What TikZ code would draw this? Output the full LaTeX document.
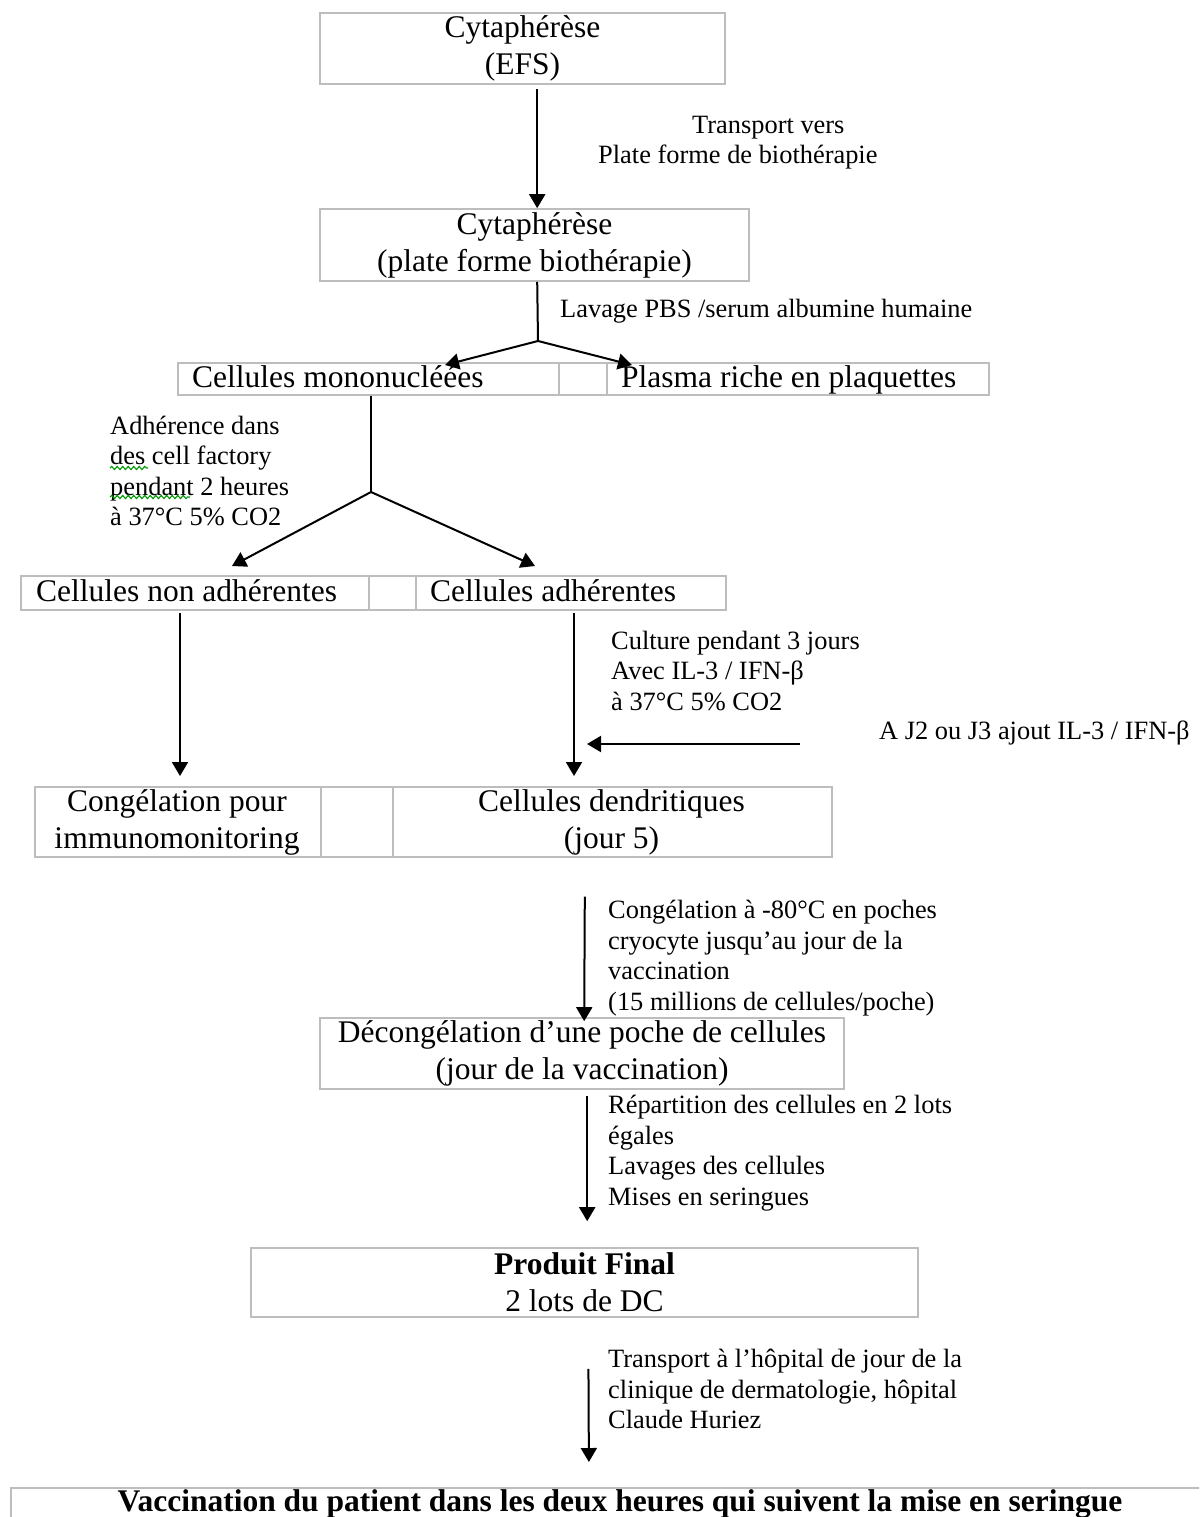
\documentclass[tikz,border=0pt]{standalone}
\usepackage{fontspec}
\setmainfont{Liberation Serif}
\usetikzlibrary{arrows.meta,decorations.pathmorphing,calc}
\newcommand\boxfnt{\fontsize{31.5}{37}\selectfont}
\newcommand\lblfnt{\fontsize{26.4}{30.5}\selectfont}
\definecolor{boxgray}{HTML}{BDBDBD}
\begin{document}
\begin{tikzpicture}[x=1pt,y=-1pt,
  box/.style={draw=boxgray, line width=1.6pt, fill=white, inner sep=0pt, align=center, font=\boxfnt},
  cellbox/.style={draw=boxgray, line width=1.6pt, fill=white, inner sep=0pt, anchor=north west},
  celltxt/.style={inner sep=0pt, font=\boxfnt, anchor=base west},
  lbl/.style={inner sep=0pt, font=\lblfnt, align=left, anchor=west},
  arr/.style={line width=2pt, -{Triangle[length=14pt,width=16pt]}},
  plain/.style={line width=2pt},
  squig/.style={draw=green!60!black, line width=1.1pt, decorate, decoration={snake, amplitude=1.6pt, segment length=5.5pt}}]
\path[use as bounding box] (0,0) rectangle (1199,1517);
\clip (0,0) rectangle (1199,1517);

% boxes
\node[box, minimum width=405, minimum height=71] (b1) at (522.5,48.5) {Cytaphérèse\\(EFS)};
\node[box, minimum width=429, minimum height=72] (b2) at (534.5,245) {Cytaphérèse\\(plate forme biothérapie)};

\node[cellbox, minimum width=381, minimum height=32] (c31) at (177,362) {};
\node[cellbox, minimum width=48, minimum height=32] (c32) at (558,362) {};
\node[cellbox, minimum width=382, minimum height=32] (c33) at (606,362) {};
\node[celltxt] (t31) at (192,387) {Cellules mononucléées};
\node[celltxt] (t33) at (621,387) {Plasma riche en plaquettes};

\node[cellbox, minimum width=348, minimum height=34] (c41) at (20,575) {};
\node[cellbox, minimum width=47, minimum height=34] (c42) at (368,575) {};
\node[cellbox, minimum width=310, minimum height=34] (c43) at (415,575) {};
\node[celltxt] (t41) at (36,601) {Cellules non adhérentes};
\node[celltxt] (t43) at (430,601) {Cellules adhérentes};

\node[cellbox, minimum width=286, minimum height=70] (c51) at (34,786) {};
\node[cellbox, minimum width=72, minimum height=70] (c52) at (320,786) {};
\node[cellbox, minimum width=439, minimum height=70] (c53) at (392,786) {};
\node[celltxt, anchor=center, align=center] (t51) at (177,822) {Congélation pour\\immunomonitoring};
\node[celltxt, anchor=center, align=center] (t53) at (611.5,822) {Cellules dendritiques\\(jour 5)};

\node[box, minimum width=524, minimum height=71] (b6) at (582,1053.5) {Décongélation d’une poche de cellules\\(jour de la vaccination)};
\node[box, minimum width=667, minimum height=69] (b7) at (584.5,1282.5) {\textbf{Produit Final}\\2 lots de DC};
\node[cellbox, minimum width=1220, minimum height=60] (b8) at (10,1487) {};
\node[celltxt, anchor=center, font=\boxfnt\bfseries] (t8) at (620,1504) {Vaccination du patient dans les deux heures qui suivent la mise en seringue};

% labels
\node[lbl] (l1) at (598,142.5) {\hspace*{94pt}Transport vers\\Plate forme de biothérapie};
\node[lbl] (l2) at (560,311) {Lavage PBS /serum albumine humaine};
\node[lbl] (l3) at (110,471) {Adhérence dans\\des cell factory\\pendant 2 heures\\à 37°C 5\% CO2};
\node[lbl] (l4) at (611,671) {Culture pendant 3 jours\\Avec IL-3 / IFN-β\\à 37°C 5\% CO2};
\node[lbl] (l5) at (879,733) {A J2 ou J3 ajout IL-3 / IFN-β};
\node[lbl] (l6) at (608,958) {Congélation à -80°C en poches\\cryocyte jusqu’au jour de la\\vaccination\\(15 millions de cellules/poche)};
\node[lbl] (l7) at (608,1153) {Répartition des cellules en 2 lots\\égales\\Lavages des cellules\\Mises en seringues};
\node[lbl] (l8) at (608,1389) {Transport à l’hôpital de jour de la\\clinique de dermatologie, hôpital\\Claude Huriez};

\draw[squig] (110,468) -- (148,468);
\draw[squig] (110,497) -- (190,497);

% connector helpers
\coordinate (j1) at (538,341);
\coordinate (j2) at (371,492);
\coordinate (h1) at (800,744);
\coordinate (h2) at (587,744);

% connectors
\draw[arr, shorten <=4pt] ($(b1.south west)+(218,0)$) -- ($(b2.north west)+(218,0)$);
\draw[plain] ($(b2.south west)+(218,0)$) -- (j1);
\draw[arr] (j1) -- ($(c31.north west)+(268,3)$);
\draw[arr] (j1) -- ($(c33.north west)+(26,3)$);
\draw[plain] ($(c31.south west)+(194,0)$) -- (j2);
\draw[arr] (j2) -- ($(c41.north west)+(212,-9)$);
\draw[arr] (j2) -- ($(c43.north west)+(120,-9)$);
\draw[arr, shorten <=2pt, shorten >=10pt] ($(c41.south west)+(160,0)$) -- ($(c51.north west)+(146,0)$);
\draw[arr, shorten <=2pt, shorten >=10pt] ($(c43.south west)+(159,0)$) -- ($(c53.north west)+(182,0)$);
\draw[arr] (h1) -- (h2);
\draw[arr, shorten <=39pt, shorten >=-4pt] ($(c53.south west)+(193,0)$) -- ($(b6.north west)+(265,0)$);
\draw[arr, shorten <=6pt, shorten >=26pt] ($(b6.south west)+(268,0)$) -- ($(b7.north west)+(337,0)$);
\draw[arr, shorten <=51pt, shorten >=25pt] ($(b7.south west)+(338,0)$) -- ($(b8.north west)+(579,0)$);
\end{tikzpicture}
\end{document}
